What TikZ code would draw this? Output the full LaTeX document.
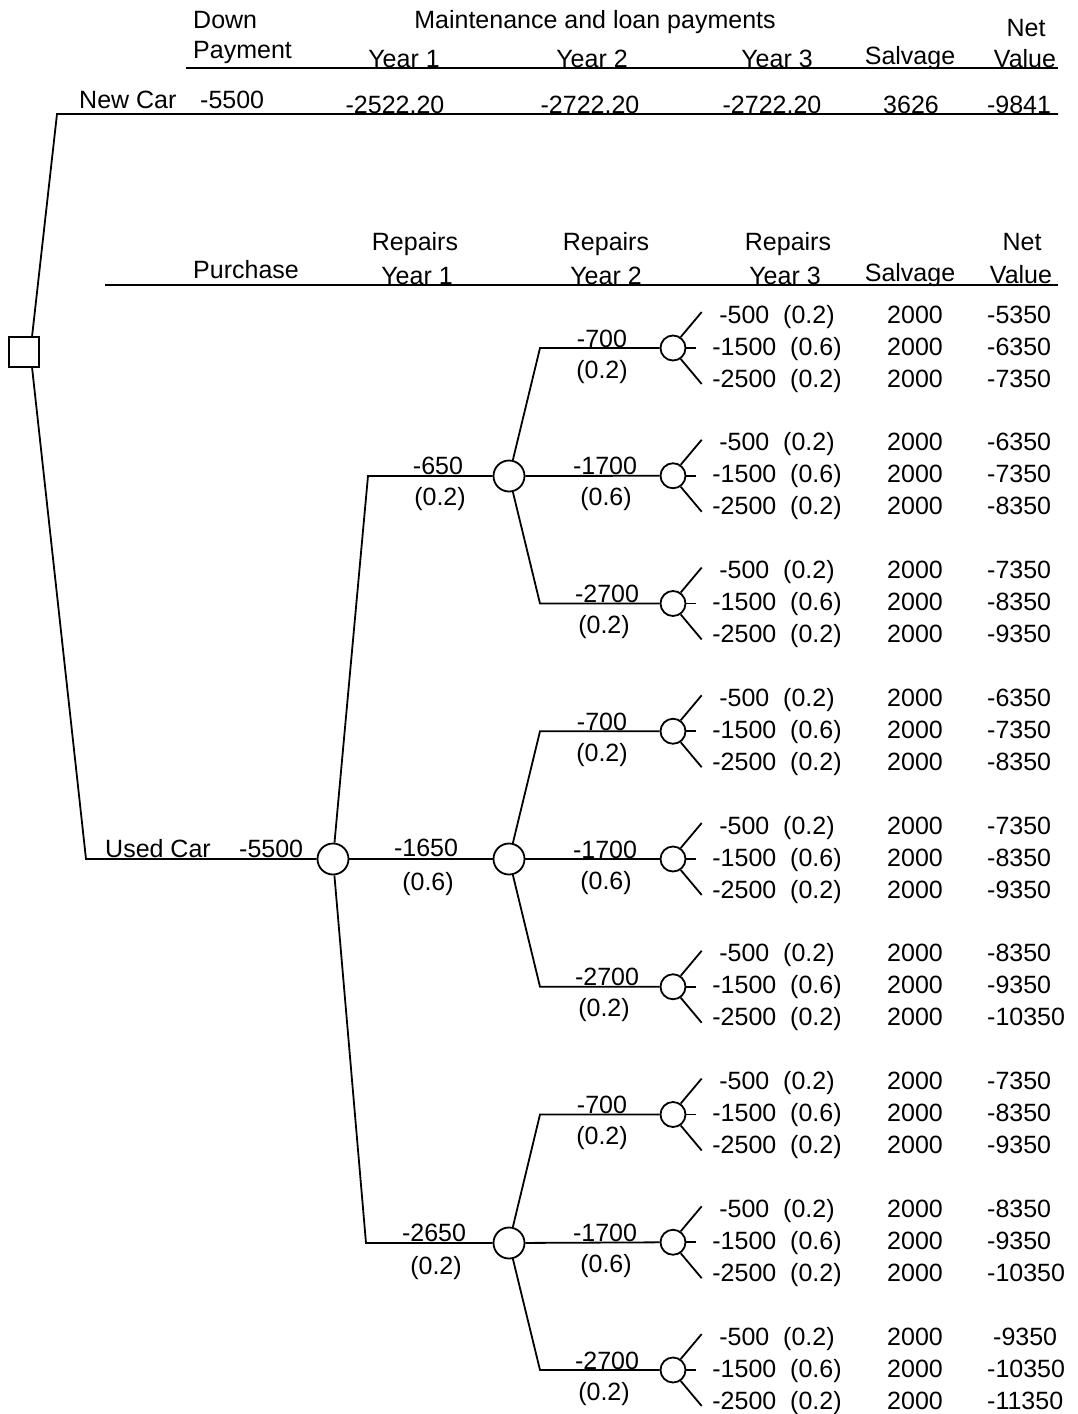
\documentclass[tikz,border=0pt]{standalone}
\usepackage{fontspec}
\setmainfont{Liberation Sans}
\usetikzlibrary{calc}
\begin{document}
\begin{tikzpicture}[x=1pt,y=-1pt,
  every node/.style={inner sep=0pt, font=\fontsize{25}{30}\selectfont},
  lbl/.style={anchor=base},
  lblw/.style={anchor=base west},
  branch/.style={line width=1.8pt},
  chance/.style={circle, draw, line width=1.8pt, minimum size=31pt, fill=white},
  leafnode/.style={chance, minimum size=25pt},
  decision/.style={rectangle, draw, line width=1.8pt, minimum size=30pt, fill=white}]
\useasboundingbox (0,0) rectangle (1078,1414);

% ---------- new car: header and single path ----------
\node[lblw] (hdown)  at (193,28) {Down};
\node[lblw] (hpay)   at (193,58) {Payment};
\node[lbl]  (hmaint) at (595,28) {Maintenance and loan payments};
\node[lbl]  (hnet)   at (1026,36) {Net};
\node[lbl]  (hy1)    at (404,67) {Year 1};
\node[lbl]  (hy2)    at (592,67) {Year 2};
\node[lbl]  (hy3)    at (777,67) {Year 3};
\node[lbl]  (hsalv)  at (910,64) {Salvage};
\node[lbl]  (hval)   at (1025,67) {Value};
\coordinate (hlineA) at (186,68);
\coordinate (hlineB) at (1058,68);
\draw[branch] (hlineA) -- (hlineB);

\node[decision] (dec) at (24,352) {};
\coordinate (ncorner) at (57,114);
\coordinate (nend) at (1058,114);
\draw[branch] (dec.63) -- (ncorner) -- (nend);

\node[lblw] (nlabel) at (79,108) {New Car};
\node[lblw] (ndown)  at (200,108) {-5500};
\node[lbl]  (ny1)    at (395,113) {-2522.20};
\node[lbl]  (ny2)    at (590,113) {-2722.20};
\node[lbl]  (ny3)    at (772,113) {-2722.20};
\node[lbl]  (nsalv)  at (911,113) {3626};
\node[lbl]  (nnet)   at (1019,113) {-9841};

% ---------- used car: header ----------
\node[lblw] (upur)  at (193,278) {Purchase};
\node[lbl]  (ur1)   at (415,250) {Repairs};
\node[lbl]  (ury1)  at (417,284) {Year 1};
\node[lbl]  (ur2)   at (606,250) {Repairs};
\node[lbl]  (ury2)  at (606,284) {Year 2};
\node[lbl]  (ur3)   at (788,250) {Repairs};
\node[lbl]  (ury3)  at (785,284) {Year 3};
\node[lbl]  (usalv) at (910,281) {Salvage};
\node[lbl]  (unet)  at (1022,250) {Net};
\node[lbl]  (uval)  at (1021,283) {Value};
\coordinate (ulineA) at (105,285);
\coordinate (ulineB) at (1058,285);
\draw[branch] (ulineA) -- (ulineB);

% ---------- used car: tree ----------
\coordinate (ucorner) at (86,859);
\node[chance] (c0) at (333,859) {};
\draw[branch] (dec.-63) -- (ucorner) -- (c0);
\node[lblw] (ulabel) at (105,857) {Used Car};
\node[lblw] (uprice) at (239,857) {-5500};

% repairs year 1
\node[chance] (c1) at (509,476) {};
\node[chance] (c2) at (509,859) {};
\node[chance] (c3) at (509,1243) {};
\coordinate (k1) at (368,476);
\coordinate (k3) at (366,1243);
\draw[branch] (c0) -- (k1) -- (c1);
\draw[branch] (c0) -- (c2);
\draw[branch] (c0) -- (k3) -- (c3);
\node[lbl] (r1a) at (438,474) {-650};
\node[lbl] (p1a) at (440,505) {(0.2)};
\node[lbl] (r1b) at (426,856) {-1650};
\node[lbl] (p1b) at (428,890) {(0.6)};
\node[lbl] (r1c) at (434,1241) {-2650};
\node[lbl] (p1c) at (436,1274) {(0.2)};

% repairs year 2 and year 3 chance nodes
\foreach \k in {0,...,8} {
  \pgfmathsetmacro\yy{348+127.75*\k}
  \node[leafnode] (d\k) at (673,\yy) {};
  \draw[branch] (d\k.55) -- ++(21,-25);
  \draw[branch] (d\k.east) -- ++(10,0);
  \draw[branch] (d\k.-55) -- ++(21,25);
  \node[lbl] (o\k a) at (777,\yy-25) {-500\ \ (0.2)};
  \node[lbl] (o\k b) at (777,\yy+7)  {-1500\ \ (0.6)};
  \node[lbl] (o\k c) at (777,\yy+39) {-2500\ \ (0.2)};
  \node[lbl] (s\k a) at (915,\yy-25) {2000};
  \node[lbl] (s\k b) at (915,\yy+7)  {2000};
  \node[lbl] (s\k c) at (915,\yy+39) {2000};
}

\foreach \g/\a/\b/\c in {1/0/1/2, 2/3/4/5, 3/6/7/8} {
  \coordinate (u\g) at ($(d\a)+(-133,0)$);
  \coordinate (l\g) at ($(d\c)+(-133,0)$);
  \draw[branch] (c\g) -- (u\g) -- (d\a);
  \draw[branch] (c\g) -- (d\b);
  \draw[branch] (c\g) -- (l\g) -- (d\c);
}

% year 2 branch labels
\foreach \k/\r/\rx/\p/\px in {0/-700/602/(0.2)/602, 1/-1700/605/(0.6)/606, 2/-2700/607/(0.2)/604,
                              3/-700/602/(0.2)/602, 4/-1700/605/(0.6)/606, 5/-2700/607/(0.2)/604,
                              6/-700/602/(0.2)/602, 7/-1700/605/(0.6)/606, 8/-2700/607/(0.2)/604} {
  \pgfmathsetmacro\yy{348+127.75*\k}
  \node[lbl] (r\k) at (\rx,\yy-1) {\r};
  \node[lbl] (q\k) at (\px,\yy+30) {\p};
}

% net values
\foreach \k/\sx/\va/\vb/\vc in {0/987/-5350/-6350/-7350, 1/987/-6350/-7350/-8350, 2/987/-7350/-8350/-9350,
                                3/987/-6350/-7350/-8350, 4/987/-7350/-8350/-9350, 5/987/-8350/-9350/-10350,
                                6/987/-7350/-8350/-9350, 7/987/-8350/-9350/-10350, 8/993/-9350/-10350/-11350} {
  \pgfmathsetmacro\yy{348+127.75*\k}
  \node[lblw] (v\k a) at (\sx,\yy-25) {\va};
  \node[lblw] (v\k b) at (987,\yy+7)  {\vb};
  \node[lblw] (v\k c) at (987,\yy+39) {\vc};
}
\end{tikzpicture}
\end{document}
